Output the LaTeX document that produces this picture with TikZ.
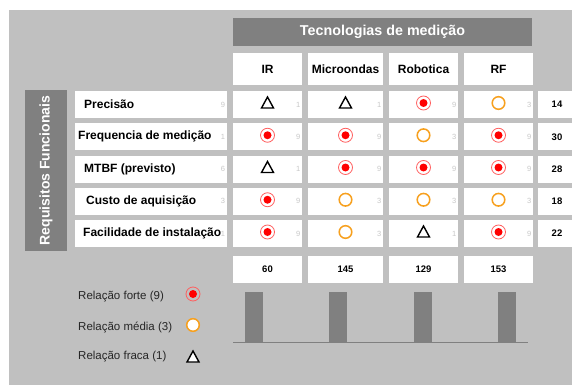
\documentclass[tikz,border=0pt]{standalone}
\usepackage{fontspec}
\setmainfont{Liberation Sans}
\usetikzlibrary{calc}
\definecolor{bggray}{RGB}{192,192,192}
\definecolor{hdgray}{RGB}{128,128,128}
\definecolor{ringred}{RGB}{255,95,95}
\definecolor{midorange}{RGB}{247,160,30}
\definecolor{numgray}{RGB}{200,200,200}

\begin{document}
\begin{tikzpicture}[x=1pt,y=-1pt,
    box/.style={fill=white,inner sep=0pt,minimum height=27},
    headbox/.style={box,minimum height=32,font=\fontsize{12}{14}\selectfont\bfseries},
    reqtext/.style={anchor=west,inner sep=0pt,font=\fontsize{12}{14}\selectfont\bfseries},
    wnum/.style={text=numgray,inner sep=0pt,font=\fontsize{7.5}{9}\selectfont},
    sumnum/.style={box,font=\fontsize{9.5}{11}\selectfont\bfseries},
    legtext/.style={anchor=west,inner sep=0pt,text=black!85,font=\fontsize{11.5}{13}\selectfont},
    bar/.style={fill=hdgray,draw=gray!70!hdgray,line width=0.6pt},
    forte/.pic={\draw[ringred,line width=0.8pt] (0,0) circle (7pt); \fill[red] (0,0) circle (4pt);},
    media/.pic={\draw[midorange,fill=white,line width=1.5pt] (0,0) circle (6.3pt);},
    fraca/.pic={\draw[black,fill=white,line width=1.4pt,line join=miter] (-6,5) -- (6,5) -- (0,-6) -- cycle;}
  ]
  \useasboundingbox (0,0) rectangle (572,385);
  \fill[bggray] (9,10) rectangle (572,385);

  % cabecalho
  \node[fill=hdgray,minimum width=299,minimum height=28,inner sep=0pt,text=white,
    font=\fontsize{14.3}{16}\selectfont\bfseries] (tec) at (382.5,32) {Tecnologias de medição};
  \foreach \n/\x/\w/\t in {ir/267.5/69/IR, mw/345.5/75/Microondas, rb/423.5/69/Robotica, rf/498.5/69/RF}
    \node[headbox,minimum width=\w] (\n) at (\x,69) {\t};

  \node[fill=hdgray,minimum width=161,minimum height=42,inner sep=0pt,rotate=90,text=white,
    font=\fontsize{14}{16}\selectfont\bfseries] (req) at (46,170.5) {Requisitos Funcionais};

  % requisitos
  \foreach \i/\lab/\lx/\w/\tot in {1/Precisão/84/9/14, 2/Frequencia de medição/78/1/30,
      3/MTBF (previsto)/84/6/28, 4/Custo de aquisição/86/3/18, 5/Facilidade de instalação/83/1/22} {
    \pgfmathsetmacro\y{72.25+32.25*\i}
    \node[box,minimum width=152] (row\i) at (151,\y) {};
    \node[reqtext] (lab\i) at (\lx,\y) {\lab};
    \node[wnum] (w\i) at (223,\y) {\w};
    \node[sumnum,minimum width=38] (tot\i) at (557,\y) {\tot};
    \foreach \n/\x/\cw in {ir/267.5/69, mw/345.5/75, rb/423.5/69, rf/498.5/69}
      \node[box,minimum width=\cw] (\n\i) at (\x,\y) {};
  }

  % relacoes
  \foreach \c/\k/\v in {ir/fraca/1, mw/fraca/1, rb/forte/9, rf/media/3} {
    \pic at ($(\c1)+(0,-1.5)$) {\k};
    \node[wnum] at ($(\c1.east)+(-4,0)$) {\v};
  }
  \foreach \c/\k/\v in {ir/forte/9, mw/forte/9, rb/media/3, rf/forte/9} {
    \pic at ($(\c2)+(0,-1.5)$) {\k};
    \node[wnum] at ($(\c2.east)+(-4,0)$) {\v};
  }
  \foreach \c/\k/\v in {ir/fraca/1, mw/forte/9, rb/forte/9, rf/forte/9} {
    \pic at ($(\c3)+(0,-1.5)$) {\k};
    \node[wnum] at ($(\c3.east)+(-4,0)$) {\v};
  }
  \foreach \c/\k/\v in {ir/forte/9, mw/media/3, rb/media/3, rf/media/3} {
    \pic at ($(\c4)+(0,-1.5)$) {\k};
    \node[wnum] at ($(\c4.east)+(-4,0)$) {\v};
  }
  \foreach \c/\k/\v in {ir/forte/9, mw/media/3, rb/fraca/1, rf/forte/9} {
    \pic at ($(\c5)+(0,-1.5)$) {\k};
    \node[wnum] at ($(\c5.east)+(-4,0)$) {\v};
  }

  % somas
  \foreach \n/\x/\w/\s in {ir/267.5/69/60, mw/345.5/75/145, rb/423.5/69/129, rf/498.5/69/153}
    \node[sumnum,minimum width=\w] (s\n) at (\x,269.5) {\s};

  % barras
  \foreach \x in {254,338,422.5,507}
    \draw[bar] (\x-8.5,292) rectangle (\x+8.5,342);
  \coordinate (b0) at (233,342);
  \coordinate (b1) at (528,342);
  \draw[hdgray,line width=0.8pt] (b0) -- (b1);

  % legenda
  \node[legtext] (lf) at (78,297) {Relação forte (9)};
  \pic at (193,294) {forte};
  \node[legtext] (lm) at (78,327) {Relação média (3)};
  \pic at (193,325) {media};
  \node[legtext] (lw) at (78,357) {Relação fraca (1)};
  \pic at (193,357) {fraca};
\end{tikzpicture}
\end{document}
